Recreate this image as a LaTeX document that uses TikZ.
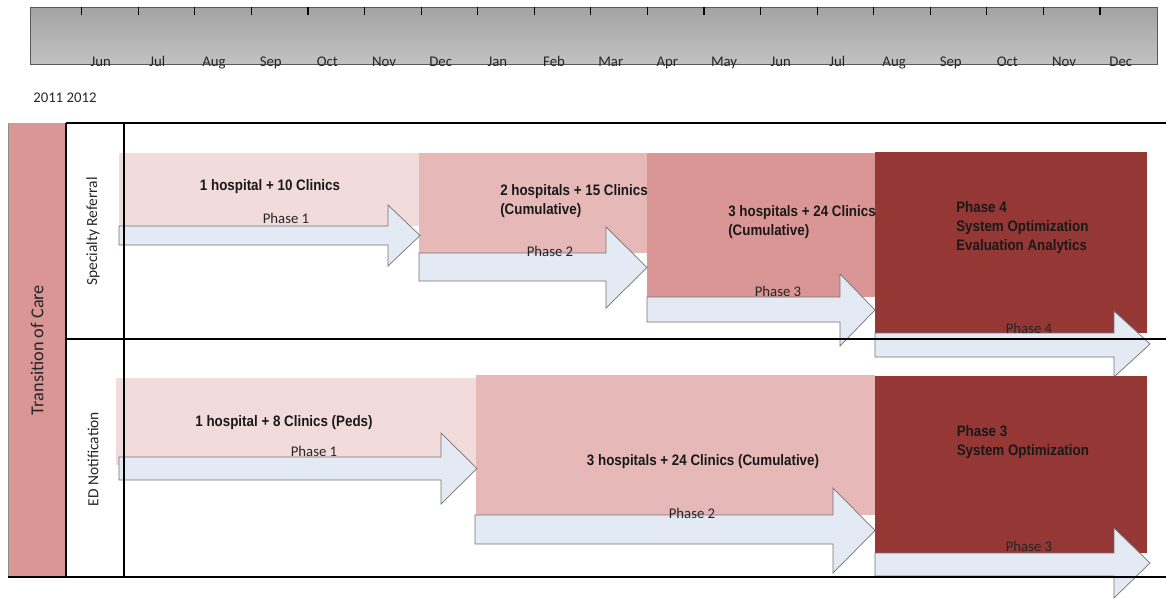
\documentclass[tikz,border=0pt]{standalone}
\usepackage{fontspec}
\setmainfont{Carlito}
\newfontfamily\arialfont[FakeStretch=0.88]{Liberation Sans}

\definecolor{phaseone}{HTML}{F2DCDB}
\definecolor{phasetwo}{HTML}{E6B9B8}
\definecolor{phasethree}{HTML}{D99694}
\definecolor{phasefour}{HTML}{953735}
\definecolor{arrowfill}{HTML}{E4EAF4}

\begin{document}
\begin{tikzpicture}[x=0.025cm, y=-0.025cm,
    every node/.style={font=\fontsize{10.5}{12}\selectfont, inner sep=0pt, text=black!85},
    boxtext/.style={font=\arialfont\bfseries\fontsize{10.8}{13.5}\selectfont, align=left, text=black!90},
    rowlabel/.style={rotate=90, font=\fontsize{11}{13}\selectfont},
    phasearrow/.style={fill=arrowfill, draw=black!55, line width=0.5pt},
    gridline/.style={draw=black, line width=0.8pt}]
    \useasboundingbox (0,0) rectangle (1166,598);
    % month scale
    \shade[top color=black!36, bottom color=black!24, draw=black!65, line width=0.7pt] (30,7) rectangle (1157,64);
    \foreach \m [count=\i from 0] in {Jun,Jul,Aug,Sep,Oct,Nov,Dec,Jan,Feb,Mar,Apr,May,Jun,Jul,Aug,Sep,Oct,Nov,Dec} {
        \draw[line width=0.8pt] (81.7+56.57*\i,7) -- ++(0,8);
        \node[anchor=base] (month\i) at (100.7+56.67*\i,66) {\m};
    }
    \node[anchor=west] (years) at (33,98) {2011 2012};
    % left strip
    \fill[phasethree] (8,123) rectangle (66,577);
    \draw[black!45, line width=0.7pt] (8,123) -- (8,577);
    % specialty referral row
    \fill[phaseone] (119,153) rectangle (419,226);
    \fill[phasetwo] (419,153) rectangle (647,253);
    \fill[phasethree] (647,153) rectangle (875,297);
    \fill[phasefour] (875,152) rectangle (1147,333);
    \draw[phasearrow] (119,226) -- (388,226) -- (388,205) -- (420,235.5) -- (388,266) -- (388,245) -- (119,245) -- cycle;
    \draw[phasearrow] (419,253) -- (606,253) -- (606,227) -- (647,267.5) -- (606,308) -- (606,281) -- (419,281) -- cycle;
    \draw[phasearrow] (647,297) -- (840,297) -- (840,274) -- (875,310) -- (840,346) -- (840,322) -- (647,322) -- cycle;
    \draw[phasearrow] (875,333) -- (1114,333) -- (1114,311) -- (1150,344) -- (1114,377) -- (1114,357) -- (875,357) -- cycle;
    % ed notification row
    \fill[phaseone] (116,378) rectangle (476,465);
    \fill[phasetwo] (476,375) rectangle (875,515);
    \fill[phasefour] (875,376) rectangle (1147,553);
    \draw[phasearrow] (119,457) -- (441,457) -- (441,433) -- (477,468.5) -- (441,504) -- (441,480) -- (119,480) -- cycle;
    \draw[phasearrow] (475,515) -- (833,515) -- (833,488) -- (875,530.5) -- (833,573) -- (833,544) -- (475,544) -- cycle;
    \draw[phasearrow] (875,553) -- (1114,553) -- (1114,528) -- (1150,563) -- (1114,598) -- (1114,576) -- (875,576) -- cycle;
    % texts
    \node[boxtext] (sr1) at (270,187) {1 hospital + 10 Clinics};
    \node (sr1phase) at (286,218) {Phase 1};
    \node[boxtext, anchor=west] (sr2) at (500,201.5) {2 hospitals + 15 Clinics\\(Cumulative)};
    \node (sr2phase) at (550,251) {Phase 2};
    \node[boxtext, anchor=west] (sr3) at (728,222.5) {3 hospitals + 24 Clinics\\(Cumulative)};
    \node (sr3phase) at (778,291.5) {Phase 3};
    \node[boxtext, anchor=west] (sr4) at (956,228) {Phase 4\\System Optimization\\Evaluation Analytics};
    \node (sr4phase) at (1029,328) {Phase 4};
    \node[boxtext] (ed1) at (284,423) {1 hospital + 8 Clinics (Peds)};
    \node (ed1phase) at (314,451.5) {Phase 1};
    \node[boxtext] (ed2) at (703,462) {3 hospitals + 24 Clinics (Cumulative)};
    \node (ed2phase) at (692,513) {Phase 2};
    \node[boxtext, anchor=west] (ed3) at (956.5,442) {Phase 3\\System Optimization};
    \node (ed3phase) at (1029,546) {Phase 3};
    % grid
    \draw[gridline] (66,123) -- (1166,123);
    \draw[gridline] (66,339) -- (1166,339);
    \draw[gridline] (8,577) -- (1166,577);
    \draw[gridline] (66,123) -- (66,577);
    \draw[gridline] (124,123) -- (124,577);
    \node[rowlabel] (specialty) at (93,231.5) {Specialty Referral};
    \node[rowlabel] (ednote) at (93,459) {ED Notification};
    \node[rowlabel, font=\fontsize{13}{15}\selectfont] (care) at (37,350) {Transition of Care};
\end{tikzpicture}
\end{document}
